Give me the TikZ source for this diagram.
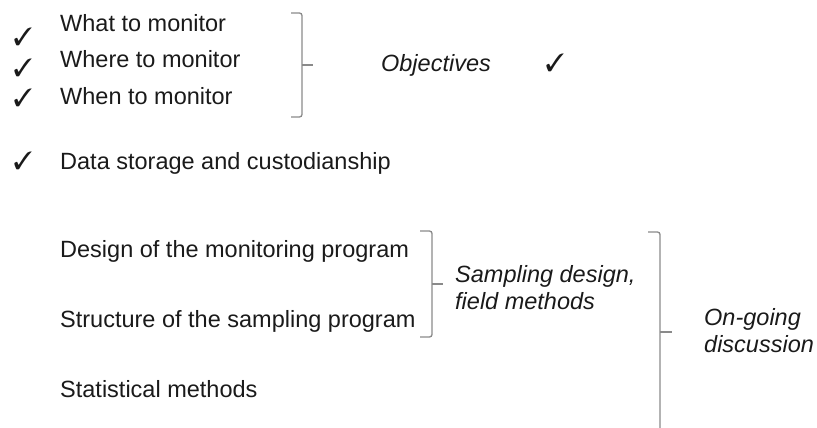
\documentclass[tikz,border=0pt]{standalone}
\usepackage{fontspec}
\setmainfont{Liberation Sans}
\usepackage{pifont}
\usetikzlibrary{positioning}
\definecolor{inkblack}{HTML}{1A1A1A}
\definecolor{bracegray}{HTML}{8A8A8A}

\begin{document}
\begin{tikzpicture}[
  x=1pt, y=-1pt,
  item/.style={anchor=base west, inner sep=0pt, text=inkblack, font=\fontsize{23.5}{27}\selectfont},
  topic/.style={inner sep=0pt, align=left, text=inkblack, font=\fontsize{23.5}{27}\selectfont\itshape},
  tickmark/.style={inner sep=0pt, text=inkblack, font=\fontsize{25}{25}\selectfont},
  brace/.style={draw=bracegray, line width=1.3pt, rounded corners=2.5pt}
]
  \useasboundingbox (0,0) rectangle (817,428);

  % objectives block
  \node[item] (what) at (60,32) {What to monitor};
  \node[item] (where) at (60,68) {Where to monitor};
  \node[item] (when) at (60,104) {When to monitor};
  \node[tickmark] (c1) at (23,37) {\ding{51}};
  \node[tickmark] (c2) at (23,68) {\ding{51}};
  \node[tickmark] (c3) at (23,98) {\ding{51}};
  \draw[brace] (291,13) -- (302,13) -- (302,117) -- (291,117);
  \draw[brace] (302,65) -- (313,65);
  \node[topic, anchor=base] (obj) at (436,71) {Objectives};
  \node[tickmark] (cobj) at (555,63) {\ding{51}};

  % data
  \node[item] (data) at (60,169) {Data storage and custodianship};
  \node[tickmark] (c4) at (23,161) {\ding{51}};

  % lower block
  \node[item] (design) at (60,257) {Design of the monitoring program};
  \node[item] (struct) at (60,327) {Structure of the sampling program};
  \node[item] (stats) at (60,397) {Statistical methods};
  \draw[brace] (420,231) -- (432,231) -- (432,337) -- (420,337);
  \draw[brace] (432,284) -- (443,284);
  \node[topic, anchor=west] (field) at (455,288) {Sampling design,\\field methods};
  \draw[brace] (648,232) -- (660,232) -- (660,428);
  \draw[brace] (660,332) -- (672,332);
  \node[topic, anchor=west] (ongoing) at (704,331) {On-going\\discussion};
\end{tikzpicture}
\end{document}
